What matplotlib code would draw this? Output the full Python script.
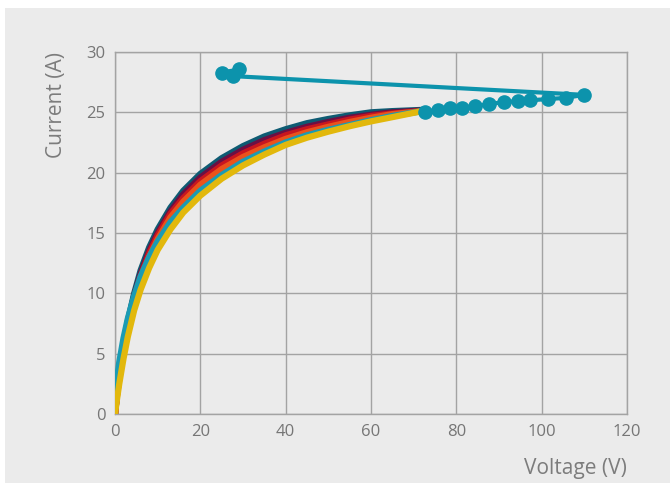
import matplotlib
matplotlib.use('Agg')
import matplotlib.pyplot as plt
from matplotlib.patches import Rectangle

plt.rcParams['font.family'] = ['Open Sans', 'DejaVu Sans']

# I-V curves, shared voltage samples
volts = [0, 0.5, 1, 2, 3, 4.5, 6, 8, 10, 13, 16, 20, 25, 30, 35, 40, 45, 50, 55, 60, 65, 72]
cur_teal   = [0, 1.9, 3.4, 5.8, 7.7, 10.0, 11.9, 13.8, 15.3, 17.1, 18.5, 19.9, 21.2, 22.2, 23.0, 23.6, 24.1, 24.45, 24.75, 25.0, 25.1, 25.2]
cur_maroon = [0, 1.8, 3.2, 5.6, 7.5, 9.8, 11.6, 13.5, 15.0, 16.8, 18.2, 19.6, 20.9, 21.9, 22.7, 23.3, 23.8, 24.2, 24.55, 24.8, 25.0, 25.15]
cur_red    = [0, 1.7, 3.0, 5.4, 7.3, 9.6, 11.4, 13.3, 14.8, 16.6, 17.9, 19.3, 20.6, 21.6, 22.4, 23.1, 23.6, 24.0, 24.4, 24.7, 24.9, 25.1]
cur_orange = [0, 1.6, 2.9, 5.2, 7.0, 9.3, 11.1, 13.0, 14.5, 16.3, 17.6, 19.0, 20.3, 21.3, 22.1, 22.8, 23.35, 23.8, 24.2, 24.55, 24.85, 25.1]
cur_cyan   = [0.8, 3.0, 4.3, 6.3, 7.9, 9.8, 11.4, 13.0, 14.3, 15.9, 17.1, 18.5, 19.8, 20.9, 21.75, 22.5, 23.1, 23.55, 23.95, 24.35, 24.7, 25.1]
cur_yellow = [0, 1.3, 2.5, 4.6, 6.4, 8.6, 10.3, 12.1, 13.6, 15.3, 16.7, 18.1, 19.5, 20.6, 21.5, 22.3, 22.9, 23.4, 23.85, 24.25, 24.6, 25.1]

curves = [cur_teal, cur_maroon, cur_red, cur_orange, cur_cyan, cur_yellow]
colors = ['#0e5b73', '#6b1044', '#c8161f', '#ea531b', '#1a9bb4', '#e2b80c']

# measured points
meas_v = [72.6, 75.7, 78.5, 81.3, 84.4, 87.6, 91.2, 94.4, 97.3, 101.5, 105.7, 109.9, 27.7, 29.1, 25.0]
meas_i = [25.05, 25.2, 25.35, 25.4, 25.5, 25.68, 25.85, 25.93, 26.0, 26.1, 26.2, 26.45, 28.0, 28.55, 28.3]

bg = '#ebebeb'
fig = plt.figure(figsize=(6.7, 4.83), dpi=100, facecolor='white')
fig.patches.append(Rectangle((5 / 670, 0), 1, 1 - 8 / 483, transform=fig.transFigure,
                             facecolor=bg, edgecolor='none', zorder=-10))
ax = fig.add_axes([115 / 670, 1 - 414 / 483, 512 / 670, 362 / 483])
ax.set_facecolor(bg)

for y, c in zip(curves, colors):
    ax.plot(volts, y, color=c, lw=4.5, solid_capstyle='round', zorder=3)

ax.plot(meas_v, meas_i, color='#0c93ac', lw=3, marker='o', ms=9.5, zorder=4)

ax.set_xlim(0, 120)
ax.set_ylim(0, 30)
ax.set_xticks(range(0, 121, 20))
ax.set_yticks(range(0, 31, 5))
ax.grid(True, color='#a3a3a3', lw=1)
ax.set_axisbelow(True)
for s in ax.spines.values():
    s.set_color('#a3a3a3')
    s.set_linewidth(1)
ax.tick_params(length=0, labelsize=12, labelcolor='#767676', pad=7)

ax.set_xlabel('Voltage (V)', loc='right', fontsize=15, color='#7c7c7c', labelpad=13)
ax.set_ylabel('Current (A)', loc='top', fontsize=15, color='#7c7c7c', labelpad=14)

fig.savefig('out.png', dpi=100, facecolor=fig.get_facecolor())
